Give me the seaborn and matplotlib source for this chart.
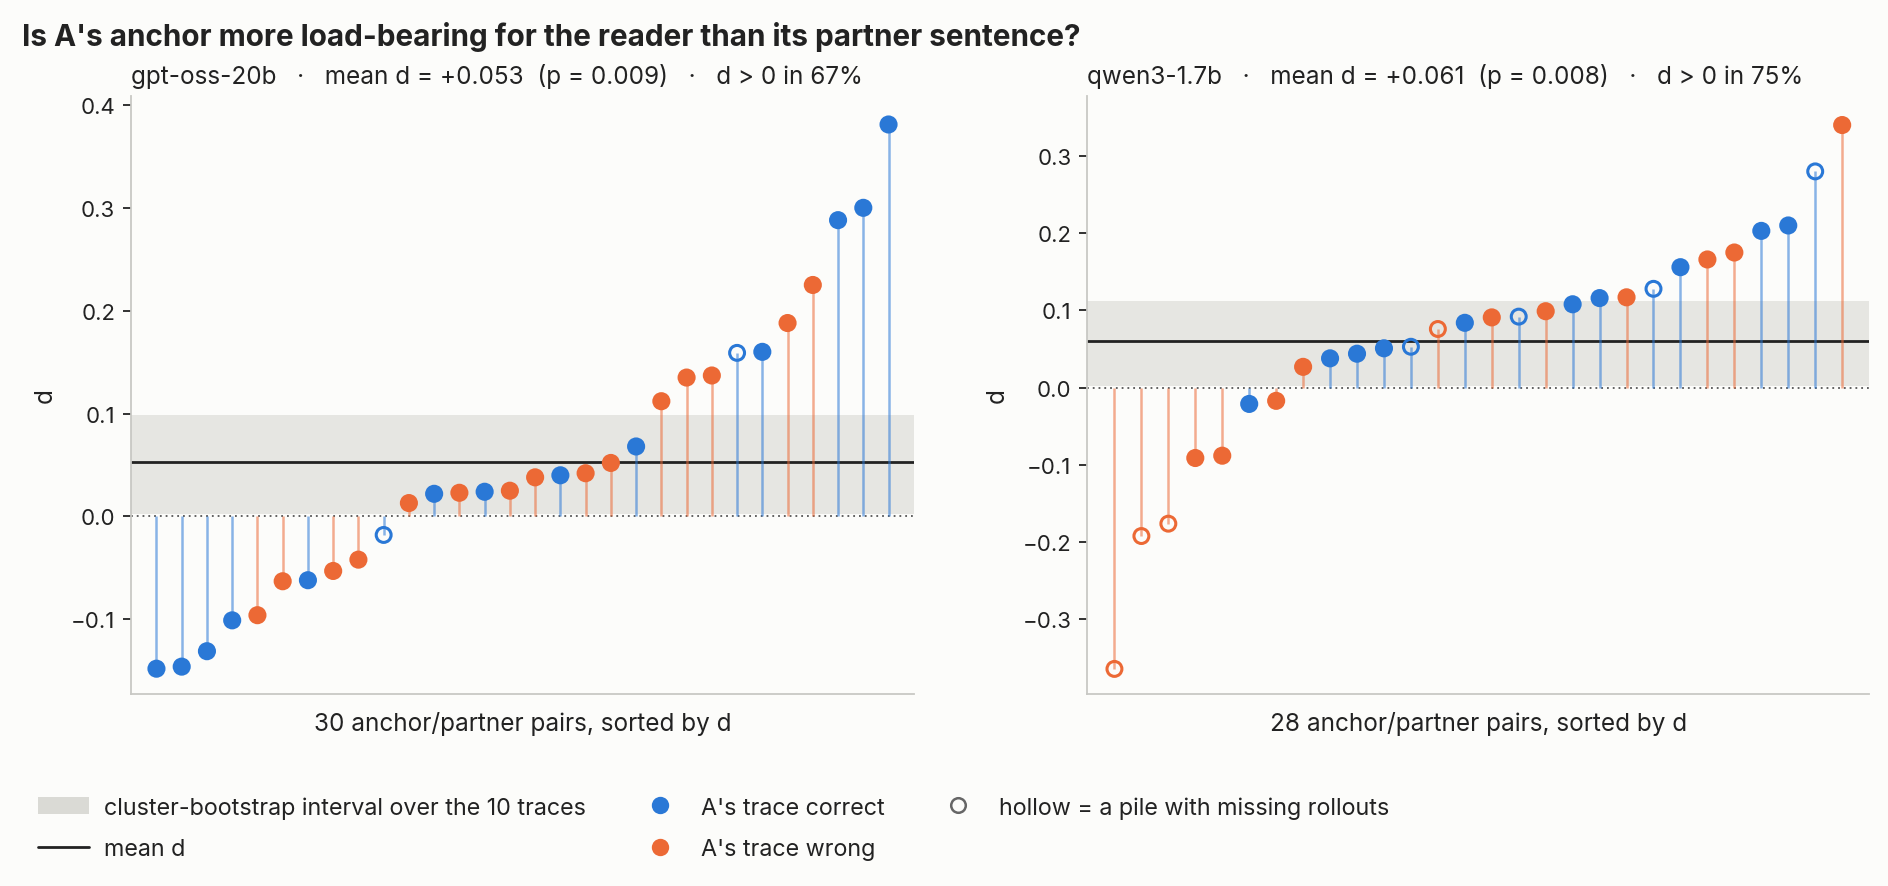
import numpy as np
import pandas as pd
import matplotlib
matplotlib.use("Agg")
import matplotlib.pyplot as plt
import seaborn as sns
from matplotlib.lines import Line2D
from matplotlib.patches import Patch

# ---- data ----
gpt_d = [-0.148, -0.146, -0.131, -0.101, -0.096, -0.063, -0.062, -0.053, -0.042, -0.018,
         0.013, 0.022, 0.023, 0.024, 0.025, 0.038, 0.040, 0.042, 0.052, 0.068,
         0.112, 0.135, 0.137, 0.159, 0.160, 0.188, 0.225, 0.288, 0.300, 0.381]
gpt_correct = [1, 1, 1, 1, 0, 0, 1, 0, 0, 1,
               0, 1, 0, 1, 0, 0, 1, 0, 0, 1,
               0, 0, 0, 1, 1, 0, 0, 1, 1, 1]
gpt_hollow = [0, 0, 0, 0, 0, 0, 0, 0, 0, 1,
              0, 0, 0, 0, 0, 0, 0, 0, 0, 0,
              0, 0, 0, 1, 0, 0, 0, 0, 0, 0]
gpt_mean = 0.053
gpt_band = (0.002, 0.099)

qwen_d = [-0.364, -0.192, -0.176, -0.091, -0.088, -0.021, -0.017, 0.027, 0.038, 0.044,
          0.051, 0.053, 0.076, 0.084, 0.091, 0.092, 0.099, 0.108, 0.116, 0.117,
          0.128, 0.156, 0.166, 0.175, 0.203, 0.210, 0.280, 0.340]
qwen_correct = [0, 0, 0, 0, 0, 1, 0, 0, 1, 1,
                1, 1, 0, 1, 0, 1, 0, 1, 1, 0,
                1, 1, 0, 0, 1, 1, 1, 0]
qwen_hollow = [1, 1, 1, 0, 0, 0, 0, 0, 0, 0,
               0, 1, 1, 0, 0, 1, 0, 0, 0, 0,
               1, 0, 0, 0, 0, 0, 1, 0]
qwen_mean = 0.061
qwen_band = (0.002, 0.112)

panels = [
    ("gpt-oss-20b", gpt_d, gpt_correct, gpt_hollow, gpt_mean, gpt_band, "0.009", "67%"),
    ("qwen3-1.7b", qwen_d, qwen_correct, qwen_hollow, qwen_mean, qwen_band, "0.008", "75%"),
]

BLUE = "#2a78d6"
ORANGE = "#ec6935"
BG = "#fcfcfa"
BAND = "#e6e6e2"

sns.set_theme(style="white")
plt.rcParams["font.family"] = ["Inter", "DejaVu Sans"]
plt.rcParams["figure.facecolor"] = BG
plt.rcParams["axes.facecolor"] = BG
plt.rcParams["text.color"] = "#222222"
plt.rcParams["axes.labelcolor"] = "#222222"
plt.rcParams["xtick.color"] = "#222222"
plt.rcParams["ytick.color"] = "#222222"

fig = plt.figure(figsize=(18.88, 8.87), dpi=100)
ax_l = fig.add_axes([0.0695, 0.216, 0.4145, 0.675])
ax_r = fig.add_axes([0.576, 0.216, 0.414, 0.675])

for ax, (name, d, corr, hol, mean_d, band, p, pos) in zip([ax_l, ax_r], panels):
    df = pd.DataFrame({"d": d, "correct": corr, "hollow": hol})
    df["i"] = np.arange(len(df))
    df["trace"] = np.where(df["correct"] == 1, "correct", "wrong")
    n = len(df)

    ax.axhspan(band[0], band[1], color=BAND, zorder=0, lw=0)
    ax.axhline(0, color="#555555", lw=1.3, ls=(0, (1, 2.2)), zorder=1)
    ax.axhline(mean_d, color="#222222", lw=2.0, zorder=2)

    stem_cols = [BLUE if c == 1 else ORANGE for c in df["correct"]]
    ax.vlines(df["i"], 0, df["d"], colors=stem_cols, lw=1.8, alpha=0.55, zorder=3)

    filled = df[df["hollow"] == 0]
    sns.scatterplot(data=filled, x="i", y="d", hue="trace",
                    palette={"correct": BLUE, "wrong": ORANGE},
                    s=170, linewidth=0, legend=False, ax=ax, zorder=4)
    holl = df[df["hollow"] == 1]
    ax.scatter(holl["i"], holl["d"], s=115, facecolors="none",
               edgecolors=[BLUE if c == 1 else ORANGE for c in holl["correct"]],
               linewidths=2.2, zorder=4)

    ax.set_xlim(-1, n)
    ax.set_xticks([])
    ax.set_xlabel(f"{n} anchor/partner pairs, sorted by d", fontsize=17.5, labelpad=12)
    ax.set_ylabel("d", fontsize=17.5, labelpad=10)
    ax.tick_params(axis="y", labelsize=16, length=5.5, width=1.3, pad=6, left=True,
                   color="#222222")
    for s in ["top", "right"]:
        ax.spines[s].set_visible(False)
    for s in ["left", "bottom"]:
        ax.spines[s].set_color("#c8c8c4")
        ax.spines[s].set_linewidth(1.3)
    ax.set_title(f"{name}   \u00b7   mean d = {mean_d:+.3f}  (p = {p})   \u00b7   d > 0 in {pos}",
                 loc="left", fontsize=17.5, pad=9)

ax_l.set_ylim(-0.173, 0.409)
ax_l.set_yticks([-0.1, 0.0, 0.1, 0.2, 0.3, 0.4])
ax_r.set_ylim(-0.397, 0.378)
ax_r.set_yticks([-0.3, -0.2, -0.1, 0.0, 0.1, 0.2, 0.3])
for ax in [ax_l, ax_r]:
    ax.set_yticklabels([f"{t:.1f}".replace("-", "\u2212") for t in ax.get_yticks()])

fig.text(0.0115, 0.958, "Is A's anchor more load-bearing for the reader than its partner sentence?",
         fontsize=21.4, fontweight="bold", ha="left", va="center")

handles = [
    Patch(facecolor="#dadad5", edgecolor="none", label="cluster-bootstrap interval over the 10 traces"),
    Line2D([0], [0], color="#222222", lw=2.0, label="mean d"),
    Line2D([0], [0], marker="o", ls="none", markersize=12.5, markerfacecolor=BLUE,
           markeredgewidth=0, label="A's trace correct"),
    Line2D([0], [0], marker="o", ls="none", markersize=12.5, markerfacecolor=ORANGE,
           markeredgewidth=0, label="A's trace wrong"),
    Line2D([0], [0], marker="o", ls="none", markersize=10.5, markerfacecolor="none",
           markeredgecolor="#666666", markeredgewidth=1.8, label="hollow = a pile with missing rollouts"),
]
fig.legend(handles=handles, loc="upper left", bbox_to_anchor=(0.009, 0.125), ncol=3,
           frameon=False, fontsize=16.8, handlelength=2.2, columnspacing=2.05,
           labelspacing=0.85, handletextpad=0.65)

fig.savefig("out.png", dpi=100, facecolor=BG)
